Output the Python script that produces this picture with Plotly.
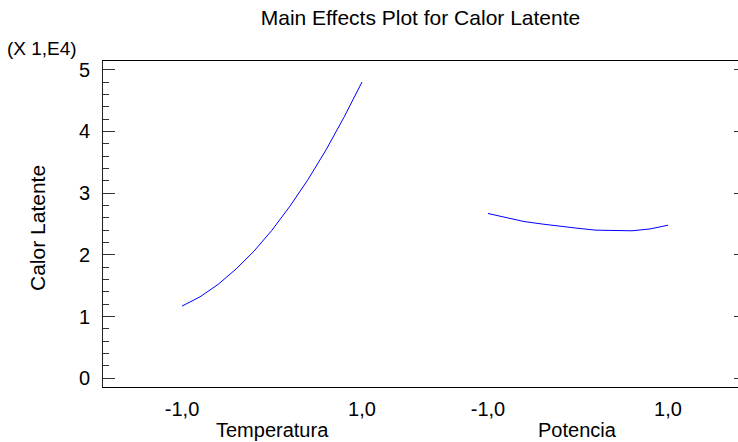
import plotly.graph_objects as go

# ---- data (values in units of 1E4) ----
levels = [-1.0, -0.8, -0.6, -0.4, -0.2, 0.0, 0.2, 0.4, 0.6, 0.8, 1.0]
temperatura = [1.17, 1.32, 1.52, 1.77, 2.06, 2.40, 2.79, 3.22, 3.70, 4.23, 4.80]
potencia = [2.67, 2.60, 2.54, 2.50, 2.46, 2.43, 2.40, 2.39, 2.39, 2.42, 2.48]
factors = ["Temperatura", "Potencia"]
factor_offsets = [0.0, 3.4]
tick_levels = [-1.0, 1.0]
tick_text = ["-1,0", "1,0"]
y_ticks = [0, 1, 2, 3, 4, 5]
title = "Main Effects Plot for Calor Latente"
y_title = "Calor Latente"
scale_label = "(X 1,E4)"

FONT = "Arial, Liberation Sans, sans-serif"
W, H = 738, 442
ML, MR, MT, MB = 103, 0, 61, 55
X_RANGE = [-1.878, 5.178]
Y_RANGE = [-0.141, 5.141]

fig = go.Figure()
series = [temperatura, potencia]
for name, off, vals in zip(factors, factor_offsets, series):
    fig.add_trace(go.Scatter(
        x=[lv + off for lv in levels], y=vals, mode="lines", name=name,
        line=dict(color="#0000FF", width=1), showlegend=False, hoverinfo="skip"))
# dummy trace to show the right-side tick axis
fig.add_trace(go.Scatter(x=[None], y=[None], yaxis="y2", showlegend=False))

tickvals, ticktext = [], []
for off in factor_offsets:
    for lv, tt in zip(tick_levels, tick_text):
        tickvals.append(lv + off)
        ticktext.append(tt)

fig.update_layout(
    width=W, height=H,
    margin=dict(l=ML, r=MR, t=MT, b=MB, pad=0),
    paper_bgcolor="white", plot_bgcolor="white",
    font=dict(family=FONT, size=20, color="black"),
    title=dict(text=title, x=0.5, xref="paper", xanchor="center",
               y=1 - 18 / H, yref="container", yanchor="middle",
               font=dict(family=FONT, size=21, color="black")),
    xaxis=dict(range=X_RANGE, tickvals=tickvals, ticktext=ticktext,
               ticks="", showgrid=False, zeroline=False,
               showline=True, linecolor="black", linewidth=1, mirror=True,
               tickfont=dict(size=20), ticklabelstandoff=4),
    yaxis=dict(range=Y_RANGE, tickvals=y_ticks, ticks="inside", ticklen=12,
               tickcolor="#333333", tickwidth=1,
               showgrid=False, zeroline=False,
               showline=True, linecolor="#222222", linewidth=1, mirror=False,
               tickfont=dict(size=20), ticklabelstandoff=8,
               minor=dict(ticks="inside", ticklen=6, dtick=0.2, tick0=0,
                          tickcolor="#333333", tickwidth=1, showgrid=False)),
    yaxis2=dict(range=Y_RANGE, overlaying="y", side="right", anchor="x",
                tickvals=y_ticks, ticks="inside", ticklen=4, tickcolor="#333333",
                showticklabels=False, showgrid=False, zeroline=False, showline=False),
)

for name, off in zip(factors, factor_offsets):
    center = off + sum(tick_levels) / len(tick_levels)
    fig.add_annotation(text=name, x=center, xref="x", y=-(430 - 387) / (H - MT - MB),
                       yref="paper", xanchor="center", yanchor="middle",
                       showarrow=False, font=dict(family=FONT, size=20))

fig.add_annotation(text=y_title, textangle=-90, x=(38 - ML) / (W - ML - MR), xref="paper",
                   y=(387 - 228) / (H - MT - MB), yref="paper",
                   xanchor="center", yanchor="middle", showarrow=False,
                   font=dict(family=FONT, size=21))
fig.add_annotation(text=scale_label, x=(5 - ML) / (W - ML - MR), xref="paper",
                   y=(387 - 48) / (H - MT - MB), yref="paper",
                   xanchor="left", yanchor="middle", showarrow=False,
                   font=dict(family=FONT, size=19))

fig.write_html("out.html")
